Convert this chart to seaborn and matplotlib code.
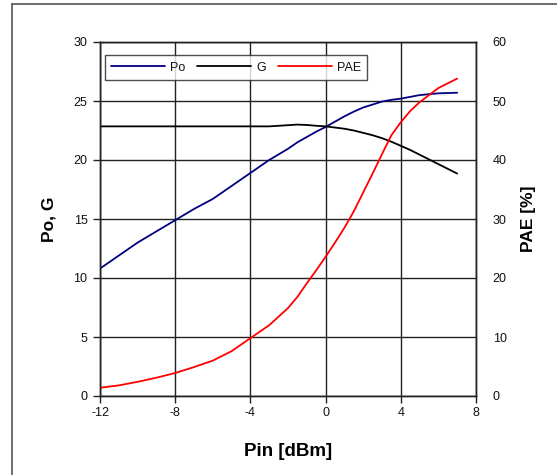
import matplotlib
matplotlib.use("Agg")
import matplotlib.pyplot as plt
from matplotlib.lines import Line2D
import seaborn as sns
import pandas as pd

pin = [-12, -11, -10, -9, -8, -7, -6, -5, -4, -3, -2, -1.5, -1, -0.5, 0, 0.5, 1, 1.5,
       2, 2.5, 3, 3.5, 4, 4.5, 5, 6, 7]
po = [10.8, 11.9, 13.0, 13.95, 14.9, 15.85, 16.7, 17.8, 18.9, 20.0, 20.95, 21.5,
      21.95, 22.4, 22.8, 23.25, 23.7, 24.1, 24.45, 24.7, 24.95, 25.1, 25.2, 25.35,
      25.5, 25.65, 25.7]
gain = [22.85, 22.85, 22.85, 22.85, 22.85, 22.85, 22.85, 22.85, 22.85, 22.85, 22.95,
        23.0, 22.97, 22.9, 22.85, 22.75, 22.65, 22.5, 22.3, 22.1, 21.85, 21.55, 21.2,
        20.85, 20.45, 19.65, 18.85]
pae = [1.4, 1.8, 2.4, 3.1, 3.9, 4.9, 6.0, 7.6, 9.8, 12.0, 14.9, 16.8, 19.1, 21.3,
       23.6, 26.0, 28.5, 31.3, 34.5, 37.7, 41.0, 44.2, 46.4, 48.3, 49.8, 52.2, 53.8]
x_ticks = [-12, -8, -4, 0, 4, 8]
y_ticks = [0, 5, 10, 15, 20, 25, 30]
y2_ticks = [0, 10, 20, 30, 40, 50, 60]
labels = ["Po", "G", "PAE"]

sns.set_theme(style="white")
plt.rcParams['font.family'] = ['Liberation Sans', 'DejaVu Sans']

df = pd.DataFrame({"Pin": pin, "Po": po, "G": gain, "PAE": pae})

fig = plt.figure(figsize=(5.57, 4.75), dpi=100)
fig.patch.set_facecolor("white")
ax = fig.add_axes([100 / 557, 1 - 396 / 475, 376 / 557, 354 / 475])
ax2 = ax.twinx()

blue, black, red = "#000080", "#000000", "#ff0000"
lw = 1.3
sns.lineplot(data=df, x="Pin", y="Po", ax=ax, color=blue, lw=lw)
sns.lineplot(data=df, x="Pin", y="G", ax=ax, color=black, lw=lw)
sns.lineplot(data=df, x="Pin", y="PAE", ax=ax2, color=red, lw=lw)

ax.set_xlim(-12, 8)
ax.set_ylim(0, 30)
ax2.set_ylim(0, 60)
ax.set_xticks(x_ticks)
ax.set_yticks(y_ticks)
ax2.set_yticks(y2_ticks)
ax.set_xticklabels([str(v) for v in x_ticks])

gc = "#222222"
ax.grid(True, color=gc, lw=1.0)
for a in (ax, ax2):
    for s in a.spines.values():
        s.set_color(gc)
        s.set_linewidth(1.0)
ax.tick_params(axis="both", which="both", direction="out", length=5, width=1.0,
               color=gc, labelsize=9, labelcolor="#111111", pad=3)
ax.tick_params(axis="y", pad=4)
ax2.tick_params(axis="y", direction="out", length=0, labelsize=9,
                labelcolor="#111111", pad=12)
ax.tick_params(left=True, bottom=True)

ax.set_xlabel("Pin [dBm]", fontsize=13.5, fontweight="bold", labelpad=17, color="black")
ax.set_ylabel("Po, G", fontsize=12.5, fontweight="bold", labelpad=12, color="black")
ax2.set_ylabel("PAE [%]", fontsize=12.5, fontweight="bold", labelpad=10, color="black")

handles = [Line2D([], [], color=blue, lw=lw), Line2D([], [], color=black, lw=lw),
           Line2D([], [], color=red, lw=lw)]
leg = ax2.legend(handles, labels, ncol=3, loc="upper left",
                 bbox_to_anchor=(0.012, 0.962), fontsize=9, frameon=True,
                 fancybox=False, edgecolor="#222222", handlelength=4.3,
                 handletextpad=0.4, columnspacing=1.0, borderpad=0.5,
                 borderaxespad=0.0)
leg.get_frame().set_linewidth(1.0)
for t in leg.get_texts():
    t.set_color("#111111")

# outer frame of the original picture
fig.add_artist(Line2D([11.5 / 557, 11.5 / 557], [0, 1 - 4 / 475], color="#555555",
                      lw=1.2, transform=fig.transFigure))
fig.add_artist(Line2D([11.5 / 557, 1], [1 - 4 / 475, 1 - 4 / 475], color="#555555",
                      lw=1.2, transform=fig.transFigure))

fig.savefig("out.png", dpi=100)
